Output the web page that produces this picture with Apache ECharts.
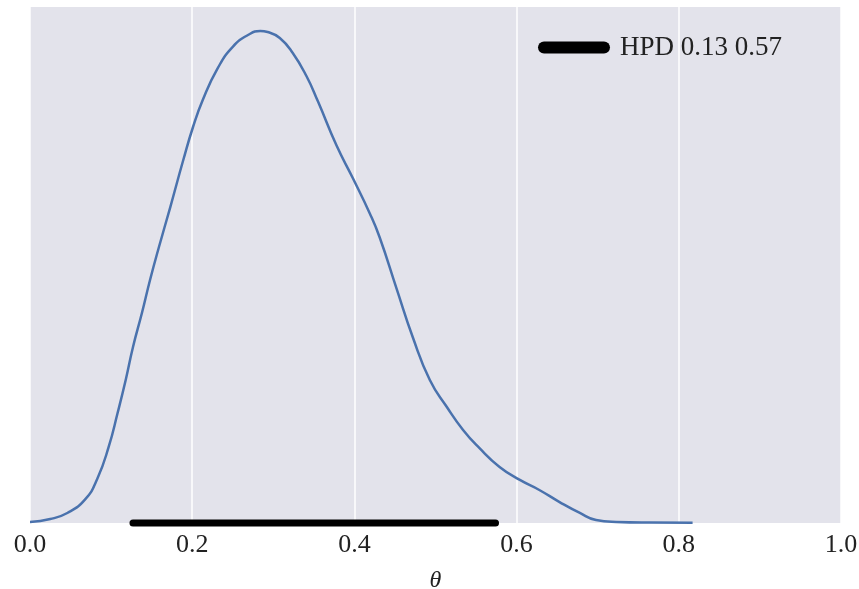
<!DOCTYPE html>
<html>
<head>
<meta charset="utf-8">
<script src="https://cdn.jsdelivr.net/npm/echarts@6/dist/echarts.min.js"></script>
<style>
  html, body { margin: 0; padding: 0; background: #fff; }
  #chart { width: 859px; height: 589px; }
</style>
</head>
<body>
<div id="chart"></div>
<script>
// posterior density of theta
const thetaX = [0.000, 0.025, 0.046, 0.068, 0.083, 0.097, 0.108, 0.118, 0.127, 0.138, 0.148, 0.159, 0.173,
  0.189, 0.201, 0.213, 0.231, 0.250, 0.271, 0.284, 0.293, 0.308, 0.324, 0.341, 0.355, 0.378, 0.398,
  0.419, 0.431, 0.452, 0.472, 0.493, 0.514, 0.534, 0.554, 0.579, 0.604, 0.628, 0.653, 0.678, 0.698,
  0.723, 0.764, 0.817];
const density = [0.007, 0.027, 0.068, 0.160, 0.300, 0.516, 0.746, 0.970, 1.194, 1.424, 1.648, 1.872, 2.143,
  2.462, 2.686, 2.869, 3.080, 3.230, 3.317, 3.337, 3.330, 3.290, 3.188, 3.030, 2.860, 2.560, 2.340,
  2.100, 1.940, 1.590, 1.260, 0.970, 0.787, 0.631, 0.509, 0.380, 0.292, 0.224, 0.142, 0.068, 0.020,
  0.007, 0.003, 0.002];
const hpd = [0.127, 0.574];
const xTicks = [0, 0.2, 0.4, 0.6, 0.8, 1.0];

const serif = '"Liberation Serif", "DejaVu Serif", serif';
const chart = echarts.init(document.getElementById('chart'));

const hpdLabel = 'HPD ' + hpd[0].toFixed(2) + ' ' + hpd[1].toFixed(2);

chart.setOption({
  animation: false,
  grid: {
    left: 30, right: 18, top: 7, bottom: 66,
    outerBoundsMode: 'none',
    containLabel: false,
    show: true, backgroundColor: '#e3e3eb', borderWidth: 0
  },
  legend: {
    data: [hpdLabel],
    left: 533, top: 29,
    itemWidth: 72, itemHeight: 12, itemGap: 10,
    icon: 'path://M6,0 H66 A6,6 0 0 1 66,12 H6 A6,6 0 0 1 6,0 Z',
    textStyle: { fontFamily: serif, fontSize: 27, color: '#222', padding: [0, 0, 0, 5] }
  },
  xAxis: {
    type: 'value',
    min: 0, max: 1, interval: 0.2,
    axisLine: { show: false },
    axisTick: { show: false },
    splitLine: { show: true, lineStyle: { color: '#ffffff', width: 1.5 } },
    axisLabel: {
      fontFamily: serif, fontSize: 26, color: '#222', margin: 9,
      formatter: v => xTicks.indexOf(v) >= 0 ? v.toFixed(1) : ''
    },
    name: 'θ',
    nameLocation: 'middle',
    nameGap: 46,
    nameTextStyle: { fontFamily: serif, fontSize: 24, fontStyle: 'italic', color: '#222' }
  },
  yAxis: {
    type: 'value',
    min: 0, max: 3.5,
    show: false,
    splitLine: { show: false }
  },
  series: [
    {
      type: 'line',
      data: thetaX.map((x, i) => [x, density[i]]),
      smooth: 0.5,
      showSymbol: false,
      lineStyle: { color: '#4a72ad', width: 2.5 },
      z: 3
    },
    {
      name: hpdLabel,
      type: 'line',
      data: hpd.map(x => [x, 0]),
      showSymbol: false,
      clip: false,
      itemStyle: { color: '#000' },
      lineStyle: { color: '#000', width: 7, cap: 'round' },
      z: 4
    }
  ]
});
</script>
</body>
</html>
